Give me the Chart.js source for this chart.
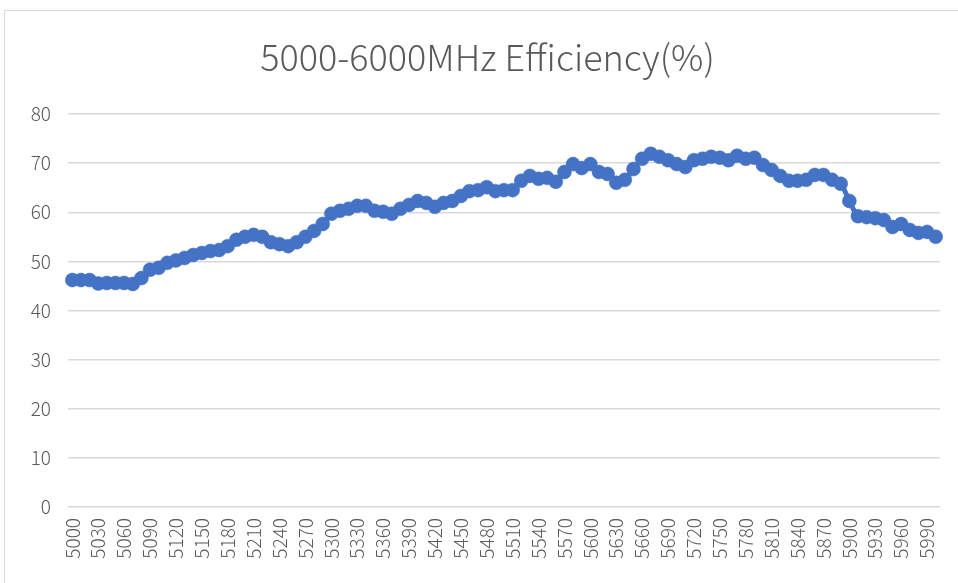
<!DOCTYPE html>
<html>
<head>
<meta charset="utf-8">
<script src="https://cdn.jsdelivr.net/npm/chart.js@4/dist/chart.umd.min.js"></script>
<style>
html,body{margin:0;padding:0;background:#fff;overflow:hidden;width:958px;height:583px;}
#frame{position:absolute;left:4px;top:10px;width:1000px;height:700px;border:1px solid #d9d9d9;box-sizing:border-box;}
#c{position:absolute;left:0;top:0;}
</style>
</head>
<body>
<div id="frame"></div>
<canvas id="c" width="958" height="583"></canvas>
<script>
const chartTitle = "5000-6000MHz Efficiency(%)";
const categories = [5000,5010,5020,5030,5040,5050,5060,5070,5080,5090,
  5100,5110,5120,5130,5140,5150,5160,5170,5180,5190,
  5200,5210,5220,5230,5240,5250,5260,5270,5280,5290,
  5300,5310,5320,5330,5340,5350,5360,5370,5380,5390,
  5400,5410,5420,5430,5440,5450,5460,5470,5480,5490,
  5500,5510,5520,5530,5540,5550,5560,5570,5580,5590,
  5600,5610,5620,5630,5640,5650,5660,5670,5680,5690,
  5700,5710,5720,5730,5740,5750,5760,5770,5780,5790,
  5800,5810,5820,5830,5840,5850,5860,5870,5880,5890,
  5900,5910,5920,5930,5940,5950,5960,5970,5980,5990,
  6000];
const efficiency = [46.2,46.2,46.2,45.5,45.6,45.6,45.6,45.4,46.6,48.3,
  48.7,49.7,50.2,50.7,51.3,51.7,52.1,52.3,53.1,54.4,
  55.0,55.4,55.0,53.9,53.5,53.1,53.9,55.0,56.2,57.6,
  59.7,60.3,60.7,61.3,61.3,60.3,60.1,59.7,60.7,61.5,
  62.3,61.9,61.1,61.9,62.3,63.3,64.3,64.5,65.1,64.3,
  64.5,64.5,66.4,67.4,66.8,67.0,66.2,68.2,69.8,69.0,
  69.8,68.2,67.8,66.0,66.6,68.8,70.9,71.9,71.3,70.6,
  69.8,69.2,70.6,70.9,71.3,71.1,70.6,71.5,70.9,71.1,
  69.6,68.6,67.4,66.4,66.4,66.6,67.6,67.6,66.6,65.8,
  62.3,59.2,59.0,58.8,58.4,57.0,57.6,56.4,55.8,56.0,
  55.0];
const yTicks = [0,10,20,30,40,50,60,70,80];
const labelEvery = 3;

const FONT = "'Noto Sans CJK SC', 'Noto Sans', sans-serif";
new Chart(document.getElementById('c'), {
  type: 'line',
  data: {
    labels: categories.map(String),
    datasets: [{
      data: efficiency,
      borderColor: '#4472c4',
      backgroundColor: '#4472c4',
      pointBackgroundColor: '#4472c4',
      pointBorderColor: '#4472c4',
      borderWidth: 5,
      pointRadius: 7,
      pointBorderWidth: 0.5,
      tension: 0.3,
      fill: false,
      yAxisID: 'y'
    }]
  },
  options: {
    responsive: false,
    animation: false,
    devicePixelRatio: 1,
    layout: { padding: { left: 17, right: 0, top: 0, bottom: 0 } },
    plugins: {
      legend: { display: false },
      tooltip: { enabled: false },
      title: {
        display: true,
        text: chartTitle,
        color: '#595959',
        font: { family: FONT, size: 36, weight: '300', lineHeight: 1.0 },
        padding: { top: 39, bottom: 39 }
      }
    },
    scales: {
      x: {
        type: 'category',
        offset: true,
        grid: { display: false, drawTicks: false },
        border: { display: false },
        afterFit: s => { s.height = 76; s.paddingLeft = 0; s.paddingRight = 0; },
        ticks: {
          autoSkip: false,
          minRotation: 90,
          maxRotation: 90,
          padding: 11,
          color: '#595959',
          font: { family: FONT, size: 19, weight: '300' },
          callback: function(v, i) { return i % labelEvery === 0 ? categories[i] : ''; }
        }
      },
      y: {
        position: 'left',
        min: yTicks[0],
        max: yTicks[yTicks.length - 1],
        grid: { color: '#d9d9d9', lineWidth: 1.5, drawTicks: false },
        border: { display: false },
        afterFit: s => { s.width = 51; s.paddingTop = 0; s.paddingBottom = 0; },
        afterBuildTicks: s => { s.ticks = yTicks.map(v => ({ value: v })); },
        ticks: {
          padding: 17,
          color: '#595959',
          font: { family: FONT, size: 19, weight: '300' }
        }
      },
      yRight: {
        position: 'right',
        min: 0,
        max: 80,
        grid: { display: false, drawTicks: false },
        border: { display: false },
        ticks: { display: false },
        afterFit: s => { s.width = 18; }
      }
    }
  }
});
</script>
</body>
</html>
